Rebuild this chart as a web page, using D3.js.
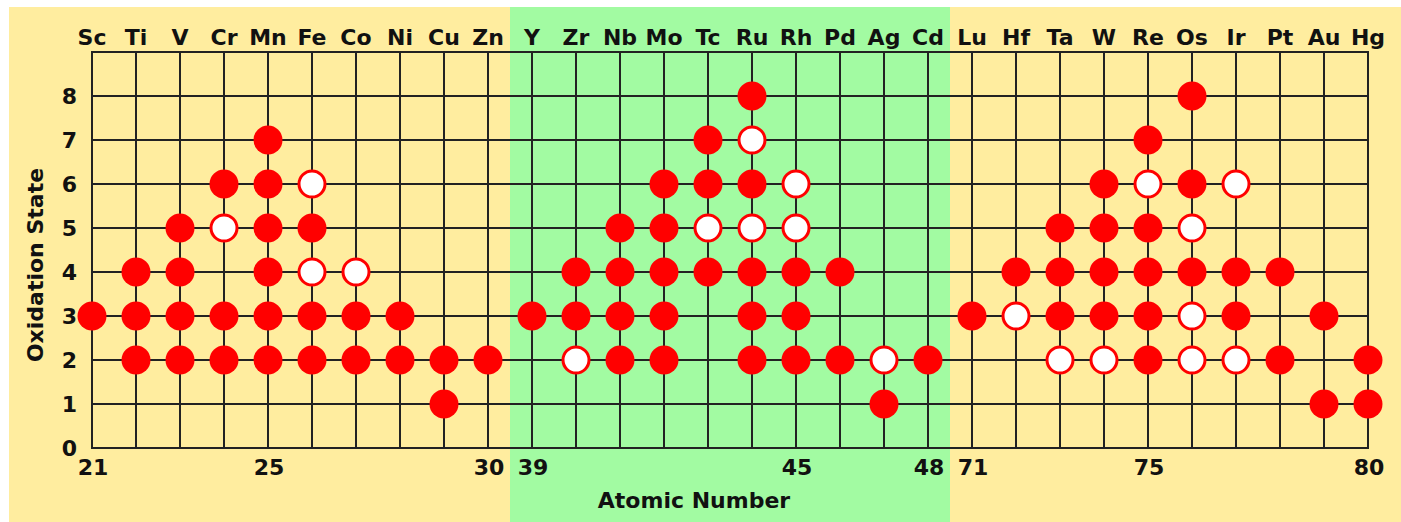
<!DOCTYPE html>
<html>
<head>
<meta charset="utf-8">
<script src="https://cdn.jsdelivr.net/npm/d3@7"></script>
<style>
  html, body { margin: 0; padding: 0; background: #ffffff; }
  svg { display: block; }
  text { font-family: "DejaVu Sans", Verdana, sans-serif; font-weight: bold; fill: #111; }
</style>
</head>
<body>
<svg id="chart" width="1401" height="522"></svg>
<script>
// ---- data ----
const elements = ["Sc","Ti","V","Cr","Mn","Fe","Co","Ni","Cu","Zn",
                  "Y","Zr","Nb","Mo","Tc","Ru","Rh","Pd","Ag","Cd",
                  "Lu","Hf","Ta","W","Re","Os","Ir","Pt","Au","Hg"];
const atomicNumberTicks = [["Sc",21],["Mn",25],["Zn",30],["Y",39],["Rh",45],["Cd",48],["Lu",71],["Re",75],["Hg",80]];
const oxidationTicks = [0,1,2,3,4,5,6,7,8];
// common (filled) oxidation states
const commonStates = {
  Sc:[3], Ti:[2,3,4], V:[2,3,4,5], Cr:[2,3,6], Mn:[2,3,4,5,6,7], Fe:[2,3,5], Co:[2,3], Ni:[2,3], Cu:[1,2], Zn:[2],
  Y:[3], Zr:[3,4], Nb:[2,3,4,5], Mo:[2,3,4,5,6], Tc:[4,6,7], Ru:[2,3,4,6,8], Rh:[2,3,4], Pd:[2,4], Ag:[1], Cd:[2],
  Lu:[3], Hf:[4], Ta:[3,4,5], W:[3,4,5,6], Re:[2,3,4,5,7], Os:[4,6,8], Ir:[3,4], Pt:[2,4], Au:[1,3], Hg:[1,2]
};
// less common (open) oxidation states
const rareStates = {
  Cr:[5], Fe:[4,6], Co:[4],
  Zr:[2], Tc:[5], Ru:[5,7], Rh:[5,6], Ag:[2],
  Hf:[3], Ta:[2], W:[2], Re:[6], Os:[2,3,5], Ir:[2,6]
};
const groups = [
  {from:"Sc", to:"Zn", color:"#FFED9F"},
  {from:"Y",  to:"Cd", color:"#A2FBA2"},
  {from:"Lu", to:"Hg", color:"#FFED9F"}
];

// ---- layout ----
const svg = d3.select("#chart");
const x = d3.scalePoint().domain(elements).range([92, 1368]);
const y = d3.scaleLinear().domain([0, 9]).range([448, 52]);
const step = x.step();

// background
svg.append("rect").attr("x", 9).attr("y", 7).attr("width", 1392).attr("height", 515).attr("fill", "#FFED9F");
svg.selectAll("rect.grp").data(groups.filter(g => g.color !== "#FFED9F")).join("rect")
  .attr("class", "grp")
  .attr("x", g => x(g.from) - step / 2)
  .attr("width", g => x(g.to) - x(g.from) + step)
  .attr("y", 7).attr("height", 515)
  .attr("fill", g => g.color);

// grid
const grid = svg.append("g").attr("stroke", "#222").attr("stroke-width", 2);
grid.selectAll("line.h").data(d3.range(0, 10)).join("line")
  .attr("x1", x(elements[0]) - 1).attr("x2", x(elements[elements.length - 1]) + 1)
  .attr("y1", d => y(d)).attr("y2", d => y(d));
grid.selectAll("line.v").data(elements).join("line")
  .attr("x1", d => x(d)).attr("x2", d => x(d))
  .attr("y1", y(9)).attr("y2", y(0));

// element labels (top axis)
svg.append("g").selectAll("text").data(elements).join("text")
  .attr("x", d => x(d)).attr("y", 45)
  .attr("text-anchor", "middle").attr("font-size", 22)
  .text(d => d);

// y tick labels
svg.append("g").selectAll("text").data(oxidationTicks).join("text")
  .attr("x", 77).attr("y", d => y(d) + 8)
  .attr("text-anchor", "end").attr("font-size", 22)
  .text(d => d);

// atomic number tick labels
svg.append("g").selectAll("text").data(atomicNumberTicks).join("text")
  .attr("x", d => x(d[0]) + 1).attr("y", 475)
  .attr("text-anchor", "middle").attr("font-size", 22)
  .text(d => d[1]);

// axis titles
svg.append("text").attr("x", 694).attr("y", 508)
  .attr("text-anchor", "middle").attr("font-size", 22).text("Atomic Number");
svg.append("text").attr("transform", "translate(43,265) rotate(-90)")
  .attr("text-anchor", "middle").attr("font-size", 22).text("Oxidation State");

// points
const common = elements.flatMap(e => (commonStates[e] || []).map(v => ({e, v})));
const rare = elements.flatMap(e => (rareStates[e] || []).map(v => ({e, v})));
svg.append("g").selectAll("circle").data(common).join("circle")
  .attr("cx", d => x(d.e)).attr("cy", d => y(d.v)).attr("r", 14.5)
  .attr("fill", "#FF0000");
svg.append("g").selectAll("circle").data(rare).join("circle")
  .attr("cx", d => x(d.e)).attr("cy", d => y(d.v)).attr("r", 13)
  .attr("fill", "#FFFFFF").attr("stroke", "#FF0000").attr("stroke-width", 3);
</script>
</body>
</html>
